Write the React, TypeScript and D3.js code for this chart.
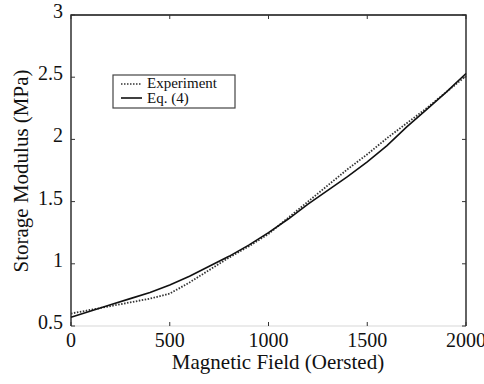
import { useEffect, useRef } from 'react';
import * as d3 from 'd3';

// values
const field = [0, 100, 200, 300, 400, 500, 600, 700, 800, 900, 1000, 1100, 1200, 1300, 1400, 1500, 1600, 1700, 1800, 1900, 2000];
const experiment = [0.60, 0.63, 0.66, 0.69, 0.72, 0.76, 0.85, 0.95, 1.05, 1.14, 1.24, 1.37, 1.50, 1.63, 1.76, 1.88, 2.01, 2.13, 2.25, 2.38, 2.51];
const equation = [0.57, 0.62, 0.67, 0.72, 0.77, 0.83, 0.90, 0.98, 1.06, 1.15, 1.25, 1.36, 1.48, 1.59, 1.70, 1.82, 1.95, 2.10, 2.24, 2.38, 2.53];
const xTicks = [0, 500, 1000, 1500, 2000];
const yTicks = [0.5, 1, 1.5, 2, 2.5, 3];

const W = 484;
const H = 384;
const font = "'Liberation Serif', 'DejaVu Serif', serif";

export default function App() {
  const ref = useRef<SVGSVGElement>(null);

  useEffect(() => {
    const svg = d3.select(ref.current);
    svg.selectAll('*').remove();

    const left = 71, right = 466, top = 15, bottom = 326;
    const x = d3.scaleLinear().domain([0, 2000]).range([left, right]);
    const y = d3.scaleLinear().domain([0.5, 3]).range([bottom, top]);

    svg.append('rect').attr('width', W).attr('height', H).attr('fill', '#fff');

    // frame (bottom edge is faint in the scan)
    svg.append('line').attr('x1', left).attr('x2', right).attr('y1', bottom).attr('y2', bottom)
      .attr('stroke', '#d8d8d8').attr('stroke-width', 1.2);
    svg.append('path')
      .attr('d', `M${left},${bottom}V${top}H${right}V${bottom}`)
      .attr('fill', 'none').attr('stroke', '#111').attr('stroke-width', 1.3);

    // inward ticks on all four sides
    const tk = 4;
    xTicks.forEach(t => {
      svg.append('line').attr('x1', x(t)).attr('x2', x(t)).attr('y1', bottom).attr('y2', bottom - tk).attr('stroke', '#333');
      svg.append('line').attr('x1', x(t)).attr('x2', x(t)).attr('y1', top).attr('y2', top + tk).attr('stroke', '#333');
      svg.append('text').attr('x', x(t)).attr('y', 347).attr('text-anchor', 'middle')
        .style('font-family', font).style('font-size', '20px').attr('fill', '#111').text(t);
    });
    yTicks.forEach(t => {
      svg.append('line').attr('x1', left).attr('x2', left + tk).attr('y1', y(t)).attr('y2', y(t)).attr('stroke', '#333');
      svg.append('line').attr('x1', right).attr('x2', right - tk).attr('y1', y(t)).attr('y2', y(t)).attr('stroke', '#333');
      svg.append('text').attr('x', 63).attr('y', y(t) + 3).attr('text-anchor', 'end')
        .style('font-family', font).style('font-size', '20px').attr('fill', '#111').text(t);
    });

    // axis titles
    svg.append('text').attr('x', 278).attr('y', 369).attr('text-anchor', 'middle')
      .style('font-family', font).style('font-size', '21px').attr('fill', '#111').text('Magnetic Field (Oersted)');
    svg.append('text').attr('transform', 'translate(28,171) rotate(-90)').attr('text-anchor', 'middle')
      .style('font-family', font).style('font-size', '21px').attr('fill', '#111').text('Storage Modulus (MPa)');

    const line = d3.line<number>().x((d, i) => x(field[i])).y(d => y(d));

    svg.append('path').datum(experiment).attr('d', line).attr('fill', 'none')
      .attr('stroke', '#333').attr('stroke-width', 1.8).attr('stroke-dasharray', '1.5,1.5');
    svg.append('path').datum(equation).attr('d', line).attr('fill', 'none')
      .attr('stroke', '#111').attr('stroke-width', 1.6);

    // legend
    const lg = svg.append('g').attr('transform', 'translate(113,75)');
    lg.append('rect').attr('width', 122).attr('height', 33).attr('fill', '#fff')
      .attr('stroke', '#444').attr('stroke-width', 1.2);
    lg.append('line').attr('x1', 8).attr('x2', 29).attr('y1', 9).attr('y2', 9)
      .attr('stroke', '#333').attr('stroke-width', 1.5).attr('stroke-dasharray', '1.5,1.5');
    lg.append('line').attr('x1', 8).attr('x2', 29).attr('y1', 23).attr('y2', 23)
      .attr('stroke', '#111').attr('stroke-width', 1.6);
    lg.append('text').attr('x', 34).attr('y', 13).style('font-family', font).style('font-size', '15px')
      .attr('fill', '#111').text('Experiment');
    lg.append('text').attr('x', 34).attr('y', 28).style('font-family', font).style('font-size', '15px')
      .attr('fill', '#111').text('Eq. (4)');
  }, []);

  return (
    <svg ref={ref} width={W} height={H}
      style={{ position: 'absolute', left: 0, top: 0, display: 'block' }} />
  );
}
